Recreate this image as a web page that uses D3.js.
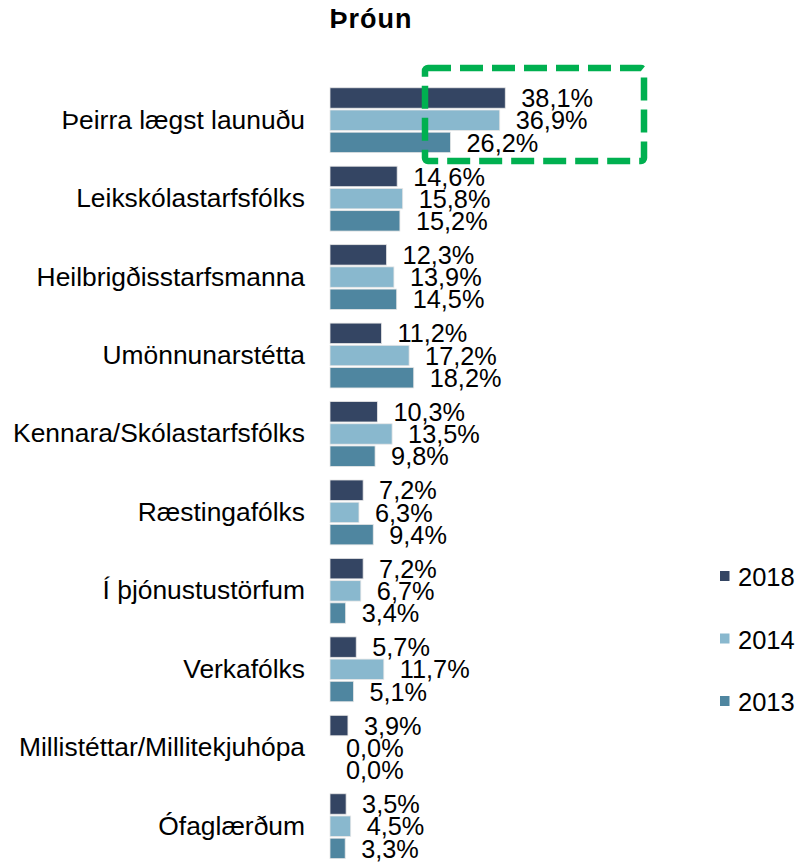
<!DOCTYPE html>
<html>
<head>
<meta charset="utf-8">
<script src="https://cdn.jsdelivr.net/npm/d3@7"></script>
<style>
  body { margin: 0; background: #fff; }
  svg { display: block; font-family: "Liberation Sans", Arial, sans-serif; }
</style>
</head>
<body>
<svg id="chart" width="801" height="865"></svg>
<script>
const categories = [
  "Þeirra lægst launuðu",
  "Leikskólastarfsfólks",
  "Heilbrigðisstarfsmanna",
  "Umönnunarstétta",
  "Kennara/Skólastarfsfólks",
  "Ræstingafólks",
  "Í þjónustustörfum",
  "Verkafólks",
  "Millistéttar/Millitekjuhópa",
  "Ófaglærðum"
];
const seriesNames = ["2018", "2014", "2013"];
const values2018 = [38.1, 14.6, 12.3, 11.2, 10.3, 7.2, 7.2, 5.7, 3.9, 3.5];
const values2014 = [36.9, 15.8, 13.9, 17.2, 13.5, 6.3, 6.7, 11.7, 0.0, 4.5];
const values2013 = [26.2, 15.2, 14.5, 18.2, 9.8, 9.4, 3.4, 5.1, 0.0, 3.3];
const seriesColors = ["#344563", "#89B8CE", "#4F86A0"];
const title = "Þróun";

const seriesValues = [values2018, values2014, values2013];
const svg = d3.select("#chart");

const x = d3.scaleLinear().domain([0, 40]).range([330, 514]);
const y = d3.scaleBand().domain(categories).range([86, 860.4]).paddingInner(0.128).paddingOuter(0);
const ySub = d3.scaleBand().domain(seriesNames).range([0, y.bandwidth()]).padding(0.08);
const color = d3.scaleOrdinal().domain(seriesNames).range(seriesColors);
const fmt = v => d3.format(".1f")(v).replace(".", ",") + "%";

// Title
svg.append("text")
  .attr("x", 371).attr("y", 28)
  .attr("text-anchor", "middle")
  .attr("font-size", 27).attr("font-weight", "bold")
  .attr("letter-spacing", 1)
  .attr("fill", "#000")
  .text(title);

// Category axis labels
const yAxis = d3.axisLeft(y).tickSize(0).tickPadding(25);
const gy = svg.append("g").attr("transform", `translate(${x(0)},0)`).call(yAxis);
gy.select(".domain").remove();
gy.selectAll("text").attr("font-size", 26.4).attr("fill", "#000")
  .attr("font-family", "'Liberation Sans', Arial, sans-serif");

// Bars
const rows = categories.map((c, i) => ({cat: c, vals: seriesNames.map((s, j) => ({s, v: seriesValues[j][i]}))}));
const g = svg.append("g").selectAll("g").data(rows).join("g")
  .attr("transform", d => `translate(0,${y(d.cat)})`);

g.selectAll("rect").data(d => d.vals).join("rect")
  .attr("x", x(0))
  .attr("y", d => ySub(d.s))
  .attr("width", d => x(d.v) - x(0))
  .attr("height", ySub.bandwidth())
  .attr("fill", d => color(d.s))
  .attr("stroke", d => d.v > 0 ? "#e6e6e6" : "none")
  .attr("stroke-width", 0.8);

g.selectAll("text.val").data(d => d.vals).join("text")
  .attr("class", "val")
  .attr("x", d => x(d.v) + 16)
  .attr("y", d => ySub(d.s) + ySub.bandwidth() / 2)
  .attr("dy", "0.36em")
  .attr("font-size", 25.3)
  .attr("fill", "#000")
  .text(d => fmt(d.v));

// Highlight box
svg.append("rect")
  .attr("x", 425).attr("y", 68)
  .attr("width", 219).attr("height", 93)
  .attr("rx", 3)
  .attr("fill", "none")
  .attr("stroke", "#00B050")
  .attr("stroke-width", 6.5)
  .attr("stroke-dasharray", "23,9");

// Legend
const legendY = d3.scalePoint().domain(seriesNames).range([576, 701]);
const lg = svg.append("g").selectAll("g").data(seriesNames).join("g")
  .attr("transform", d => `translate(720,${legendY(d)})`);
lg.append("rect").attr("x", 0).attr("y", -5).attr("width", 9.5).attr("height", 10)
  .attr("fill", d => color(d));
lg.append("text").attr("x", 18).attr("y", 1).attr("dy", "0.36em")
  .attr("font-size", 25.5).attr("fill", "#000").text(d => d);
</script>
</body>
</html>
